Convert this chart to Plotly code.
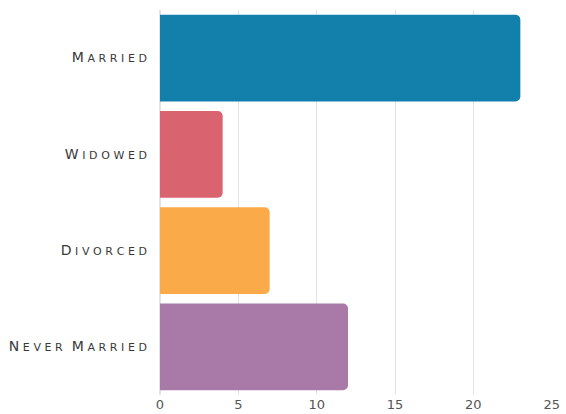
import plotly.graph_objects as go

# Marital status counts
categories = ["Married", "Widowed", "Divorced", "Never Married"]
values = [23, 4, 7, 12]
colors = ["#137FAB", "#DA6370", "#FBAA4A", "#A97AA8"]
x_ticks = [0, 5, 10, 15, 20, 25]

GAP = "\u2004"  # three-per-em space used as letter spacing


def small_caps(text, big=14, small=11):
    """Render text as spaced small caps: capitals larger, other letters uppercased smaller."""
    words = []
    for word in text.split(" "):
        head, tail = word[0], word[1:].upper()
        words.append(
            f"<span style='font-size:{big}px'>{head}</span>"
            f"<span style='font-size:{small}px'>{GAP}{GAP.join(tail)}</span>"
        )
    return "<span style='font-size:{}px'>  </span>".format(big).join(words)


labels = [small_caps(c) for c in categories]

fig = go.Figure(
    go.Bar(
        x=values,
        y=categories,
        orientation="h",
        marker=dict(color=colors, line=dict(width=0)),
        hoverinfo="x+y",
    )
)

fig.update_layout(
    width=566,
    height=414,
    margin=dict(l=160, r=14, t=10, b=19),
    paper_bgcolor="white",
    plot_bgcolor="white",
    bargap=0.1,
    barcornerradius=5,
    showlegend=False,
    font=dict(family="DejaVu Sans", color="#3a3a3a"),
)

fig.update_xaxes(
    range=[0, 25.02],
    tickvals=x_ticks,
    ticktext=[str(t) for t in x_ticks],
    tickfont=dict(size=13, color="#555", family="DejaVu Sans"),
    showgrid=True,
    gridcolor="#E3E3E3",
    gridwidth=1,
    zeroline=True,
    zerolinecolor="#E3E3E3",
    showline=False,
    ticks="",
    ticklabelstandoff=0,
    automargin=False,
    fixedrange=True,
)

fig.update_yaxes(
    categoryorder="array",
    categoryarray=categories[::-1],
    tickvals=categories,
    ticktext=labels,
    tickfont=dict(color="#3a3a3a", family="DejaVu Sans"),
    showgrid=False,
    showline=False,
    ticks="",
    ticklabelstandoff=12,
    automargin=False,
    fixedrange=True,
)

fig.write_html("out.html")
